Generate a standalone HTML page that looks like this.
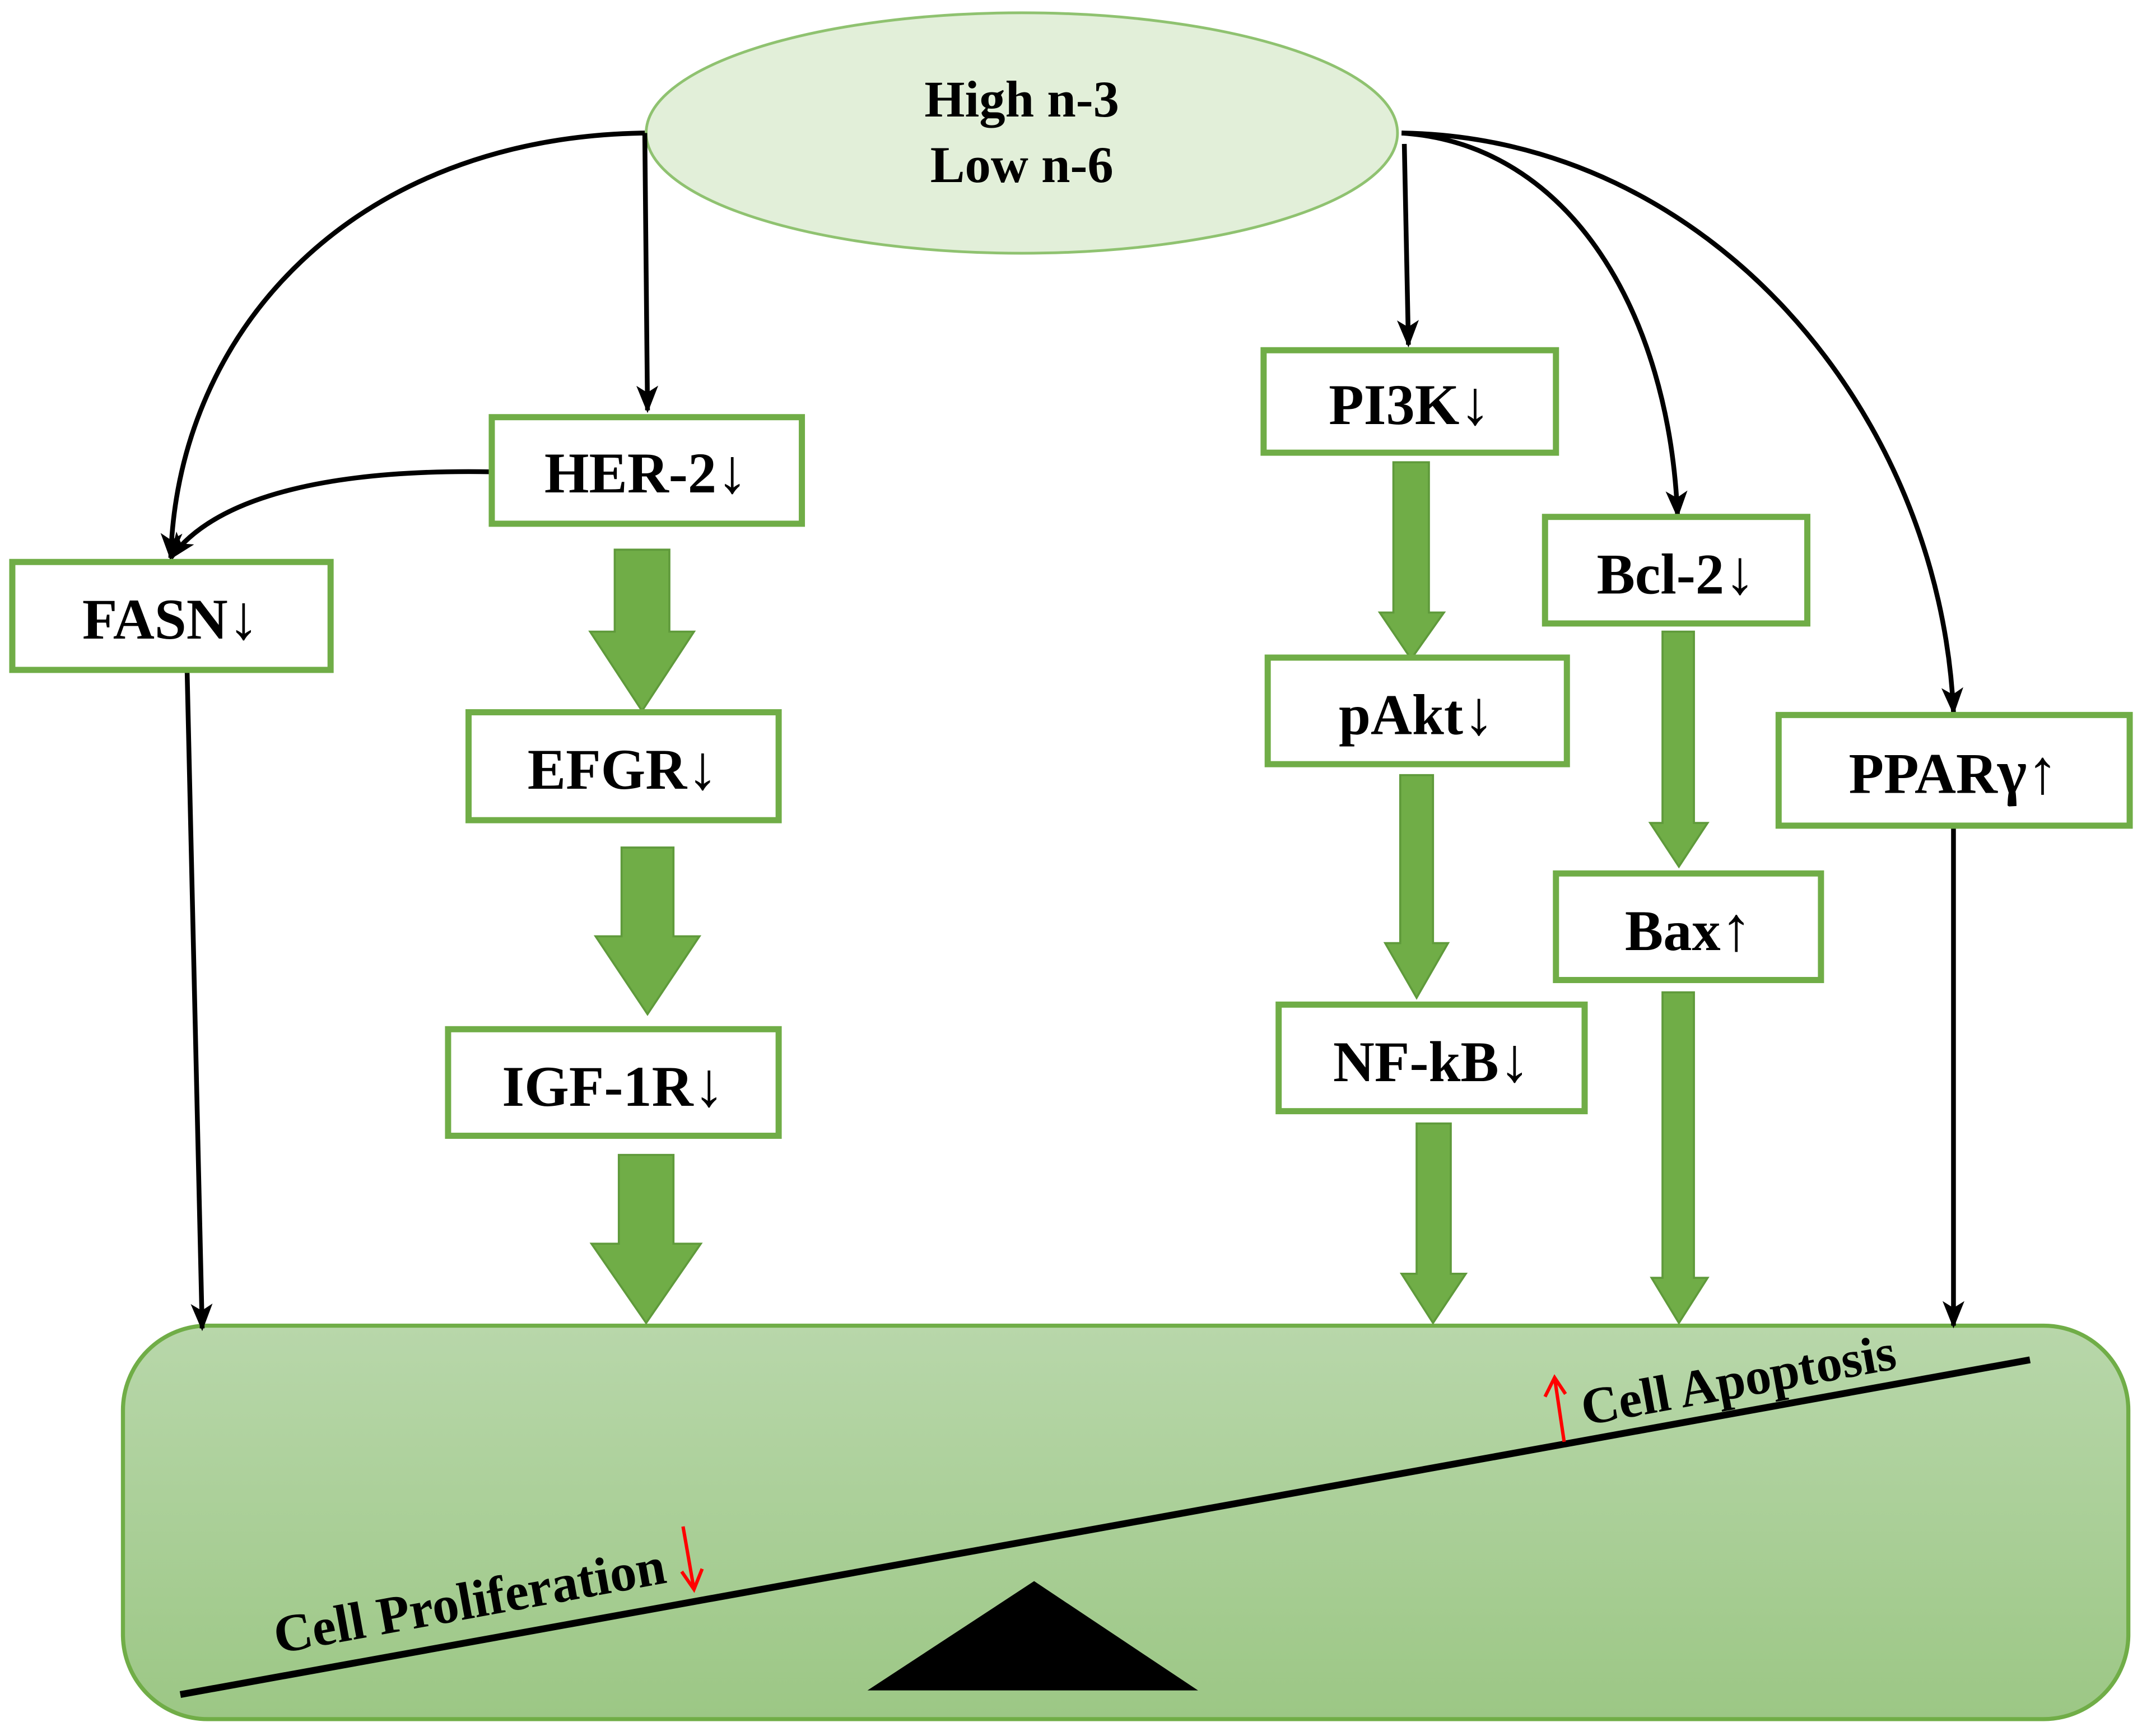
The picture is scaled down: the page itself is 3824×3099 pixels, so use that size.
<!DOCTYPE html>
<html><head><meta charset="utf-8"><style>
html,body{margin:0;padding:0;background:#fff}
svg{display:block}
text{font-family:"Liberation Serif","DejaVu Serif",serif;font-weight:bold;fill:#000}
.ar{font-size:46px}
</style></head><body>
<svg width="3824" height="3099" viewBox="0 0 1568 1270" xmlns="http://www.w3.org/2000/svg">
<defs>
<linearGradient id="g" x1="0" y1="0" x2="0" y2="1"><stop offset="0" stop-color="#b8d7aa"/><stop offset="1" stop-color="#9cc785"/></linearGradient>
<marker id="big" markerWidth="20" markerHeight="16" refX="18" refY="8" orient="auto" markerUnits="userSpaceOnUse" viewBox="0 0 20 16"><path d="M0,0 L20,8 L0,16 L5,8 z" fill="#000"/></marker>
</defs>
<rect width="1568" height="1270" fill="#fff"/>
<ellipse cx="748" cy="97" rx="275" ry="88" fill="#e2efd9" stroke="#8fc270" stroke-width="2"/>
<text x="748" y="85" font-size="38" text-anchor="middle">High n-3</text>
<text x="748" y="133" font-size="38" text-anchor="middle">Low n-6</text>
<rect x="90" y="970" width="1468" height="288" rx="62" fill="url(#g)" stroke="#70ad47" stroke-width="3"/>
<g stroke="#000" stroke-width="3.5" fill="none">
<path d="M472,97 L474,300" marker-end="url(#big)"/>
<path d="M472,97 C260,100 130,240 125,408" marker-end="url(#big)"/>
<path d="M360,345 C250,343 160,360 125,408" marker-end="url(#big)"/>
<path d="M137,492 L148,972" marker-end="url(#big)"/>
<path d="M1028,105 L1031,252" marker-end="url(#big)"/>
<path d="M1026,97 C1150,105 1222,230 1228,377" marker-end="url(#big)"/>
<path d="M1026,97 C1250,100 1420,300 1430,521" marker-end="url(#big)"/>
<path d="M1430,606 L1430,970" marker-end="url(#big)"/>
</g>
<g fill="#70ad47" stroke="#5f9a3b" stroke-width="1.5">
<path d="M450,402 H490 V462 H508 L470,520 L432,462 H450 Z"/>
<path d="M455,620 H493 V685 H512 L474,742 L436,685 H455 Z"/>
<path d="M453,845 H493 V910 H513 L473,968 L433,910 H453 Z"/>
<path d="M1020,338 H1046 V448 H1057 L1033,482 L1010,448 H1020 Z"/>
<path d="M1025,567 H1049 V690 H1060 L1037,730 L1014,690 H1025 Z"/>
<path d="M1037,822 H1062 V932 H1073 L1049,968 L1026,932 H1037 Z"/>
<path d="M1217,462 H1240 V602 H1250 L1229,634 L1208,602 H1217 Z"/>
<path d="M1217,726 H1240 V935 H1250 L1229,968 L1209,935 H1217 Z"/>
</g>
<g fill="#fff" stroke="#70ad47" stroke-width="4.5">
<rect x="360" y="305" width="227" height="78"/>
<rect x="9" y="411" width="233" height="79"/>
<rect x="343" y="521" width="227" height="79"/>
<rect x="328" y="753" width="242" height="78"/>
<rect x="925" y="256" width="214" height="75"/>
<rect x="928" y="481" width="219" height="78"/>
<rect x="936" y="735" width="224" height="78"/>
<rect x="1131" y="378" width="192" height="78"/>
<rect x="1139" y="639" width="194" height="78"/>
<rect x="1302" y="523" width="257" height="81"/>
</g>
<g font-size="42" text-anchor="middle">
<text x="473" y="360">HER-2<tspan class="ar">↓</tspan></text>
<text x="125" y="467">FASN<tspan class="ar">↓</tspan></text>
<text x="456" y="577">EFGR<tspan class="ar">↓</tspan></text>
<text x="449" y="809">IGF-1R<tspan class="ar">↓</tspan></text>
<text x="1032" y="310">PI3K<tspan class="ar">↓</tspan></text>
<text x="1037" y="537">pAkt<tspan class="ar">↓</tspan></text>
<text x="1048" y="791">NF-kB<tspan class="ar">↓</tspan></text>
<text x="1227" y="434">Bcl-2<tspan class="ar">↓</tspan></text>
<text x="1236" y="695">Bax<tspan class="ar">↑</tspan></text>
<text x="1430" y="580">PPAR<tspan class="ar">γ↑</tspan></text>
</g>
<line x1="132" y1="1240" x2="1486" y2="995" stroke="#000" stroke-width="5"/>
<polygon points="635,1237 757,1157 877,1237" fill="#000"/>
<text font-size="39" transform="translate(203,1210) rotate(-10.3)">Cell Proliferation</text>
<text font-size="38" transform="translate(1160,1043) rotate(-10.3)">Cell Apoptosis</text>
<g stroke="#f00" stroke-width="2.5" fill="none">
<path d="M500,1117 L508,1163 M499,1150 L508,1163 L514,1148"/>
<path d="M1145,1055 L1138,1008 M1131,1022 L1138,1008 L1146,1020"/>
</g>
</svg>
</body></html>
